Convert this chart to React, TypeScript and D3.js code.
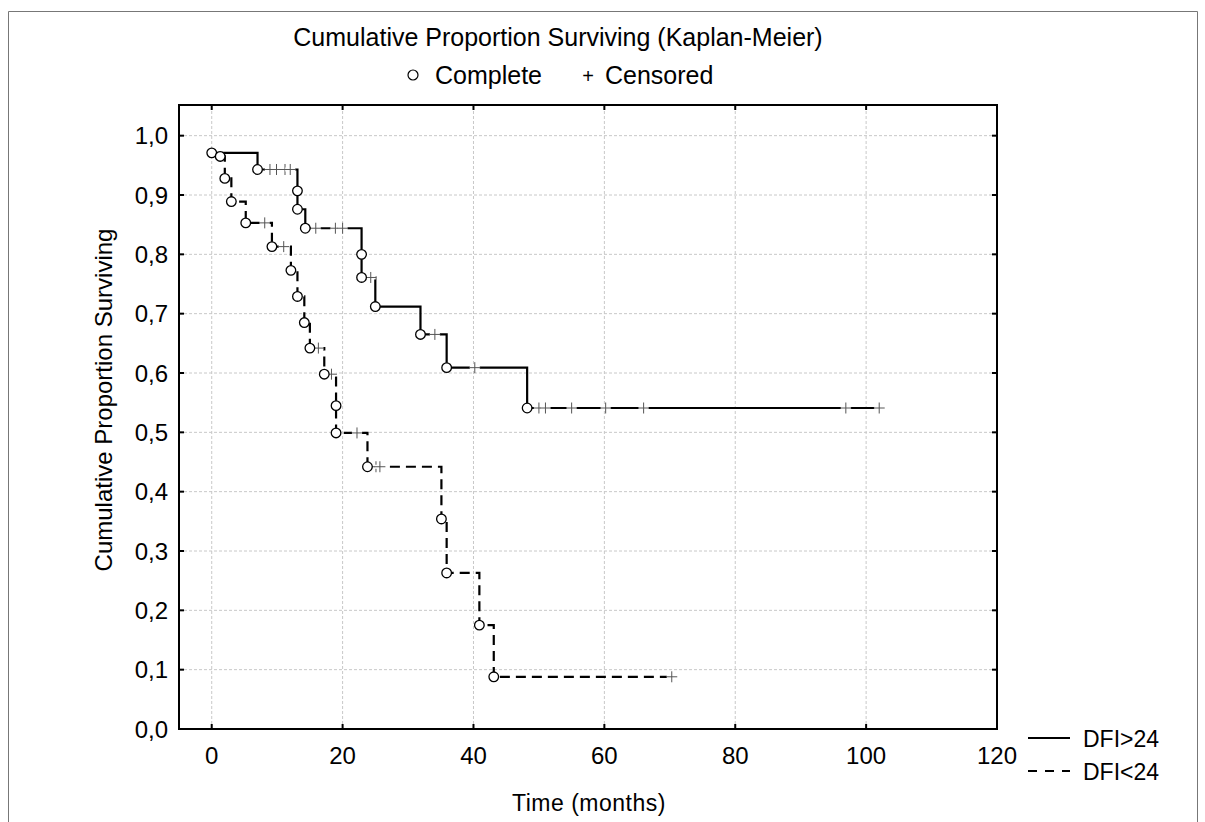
import React from "react";
import * as d3 from "d3";

const solidEventT = [0, 7, 13.1, 13.1, 14.3, 22.9, 22.9, 25.0, 31.9, 35.9, 48.2];
const solidEventS = [0.971, 0.943, 0.907, 0.876, 0.844, 0.8, 0.761, 0.712, 0.665, 0.609, 0.541];
const solidCensorT = [8.9, 9.9, 11.2, 12.0, 15.9, 18.9, 20.0, 24.3, 34.1, 40.2, 50.0, 51.0, 55.0, 60.2, 66.0, 96.9, 102.0];

const dashEventT = [1.3, 2.0, 3.0, 5.2, 9.2, 12.1, 13.1, 14.15, 15.0, 17.2, 19.0, 19.0, 23.8, 35.1, 35.9, 40.9, 43.1];
const dashEventS = [0.965, 0.928, 0.889, 0.853, 0.813, 0.773, 0.729, 0.685, 0.642, 0.598, 0.545, 0.499, 0.442, 0.354, 0.263, 0.175, 0.088];
const dashCensorT = [8.1, 11.0, 16.3, 18.3, 22.2, 25.1, 25.7, 70.3];

const xTicks = [0, 20, 40, 60, 80, 100, 120];
const yTicks = [0, 0.1, 0.2, 0.3, 0.4, 0.5, 0.6, 0.7, 0.8, 0.9, 1.0];

const title = "Cumulative Proportion Surviving (Kaplan-Meier)";
const yLabel = "Cumulative Proportion Surviving";
const xLabel = "Time (months)";
const seriesNames = ["DFI>24", "DFI<24"];

const FONT = "'Liberation Sans', Arial, sans-serif";

function survAt(t: number, ts: number[], ss: number[]) {
  let s = 1;
  for (let i = 0; i < ts.length; i++) if (ts[i] <= t) s = ss[i];
  return s;
}

export default function App() {
  const L = 179, R = 997, T = 106, B = 729;
  const x = d3.scaleLinear().domain([-5, 120]).range([L, R]);
  const y = d3.scaleLinear().domain([0, 1.05]).range([B, T]);

  const buildPath = (ts: number[], ss: number[], cs: number[]) => {
    const pts: [number, number][] = [[ts[0], ss[0]]];
    for (let i = 1; i < ts.length; i++) {
      pts.push([ts[i], ss[i - 1]]);
      pts.push([ts[i], ss[i]]);
    }
    const end = Math.max(...cs);
    if (end > ts[ts.length - 1]) pts.push([end, ss[ss.length - 1]]);
    return d3.line<[number, number]>().x((d) => x(d[0])).y((d) => y(d[1]))(pts) || "";
  };

  const series = [
    { ts: solidEventT, ss: solidEventS, cs: solidCensorT, dash: "" },
    { ts: dashEventT, ss: dashEventS, cs: dashCensorT, dash: "10,6" },
  ];

  const fmt = (v: number) => d3.format(".1f")(v).replace(".", ",");

  return (
    <svg width={1205} height={822} style={{ position: "absolute", left: 0, top: 0, background: "#fff" }}>
      <rect x={0} y={0} width={1205} height={822} fill="#fff" />
      <path d="M8.5,830 V11.5 H1197.5 V830" fill="none" stroke="#777" strokeWidth={1} />
      <text x={558} y={46} textAnchor="middle" fontFamily={FONT} fontSize={25} fill="#000">{title}</text>
      <g fontFamily={FONT} fontSize={25}>
        <circle cx={413} cy={75} r={5} fill="#fff" stroke="#000" strokeWidth={1.2} />
        <text x={435} y={84} fill="#000">Complete</text>
        <text x={588} y={83} textAnchor="middle" fill="#000" fontSize={20}>+</text>
        <text x={605} y={84} fill="#000">Censored</text>
      </g>
      {/* grid */}
      <g stroke="#c8c8c8" strokeWidth={1} strokeDasharray="3,2">
        {xTicks.filter((t) => t < 120).map((t) => (
          <line key={"gx" + t} x1={x(t)} x2={x(t)} y1={T} y2={B} />
        ))}
        {yTicks.filter((t) => t > 0).map((t) => (
          <line key={"gy" + t} x1={L} x2={R} y1={y(t)} y2={y(t)} />
        ))}
      </g>
      {/* curves */}
      {series.map((s, i) => (
        <path key={"p" + i} d={buildPath(s.ts, s.ss, s.cs)} fill="none" stroke="#000" strokeWidth={2.2} strokeDasharray={s.dash || undefined} />
      ))}
      {series.map((s, i) => (
        <g key={"c" + i}>
          {s.cs.map((t, j) => {
            const cx = x(t), cy = y(survAt(t, s.ts, s.ss));
            return (
              <g key={j}>
                <rect x={cx - 5} y={cy - 2} width={10} height={4} fill="#fff" />
                <line x1={cx - 5.5} x2={cx + 5.5} y1={cy} y2={cy} stroke="#555" strokeWidth={1} />
                <line x1={cx} x2={cx} y1={cy - 5.5} y2={cy + 5.5} stroke="#555" strokeWidth={1} />
              </g>
            );
          })}
          {s.ts.map((t, j) => (
            <circle key={"e" + j} cx={x(t)} cy={y(s.ss[j])} r={4.8} fill="#fff" stroke="#000" strokeWidth={1.3} />
          ))}
        </g>
      ))}
      {/* frame and ticks */}
      <rect x={L} y={T - 1} width={R - L} height={B - T + 1} fill="none" stroke="#000" strokeWidth={2} />
      <g stroke="#000" strokeWidth={2}>
        {xTicks.filter((t) => t < 120).map((t) => (
          <g key={"tx" + t}>
            <line x1={x(t)} x2={x(t)} y1={B} y2={B - 5} />
            <line x1={x(t)} x2={x(t)} y1={T - 1} y2={T + 4} />
          </g>
        ))}
        {yTicks.filter((t) => t > 0).map((t) => (
          <g key={"ty" + t}>
            <line x1={L} x2={L + 5} y1={y(t)} y2={y(t)} />
            <line x1={R} x2={R - 5} y1={y(t)} y2={y(t)} />
          </g>
        ))}
      </g>
      <g fontFamily={FONT} fontSize={24} fill="#000">
        {xTicks.map((t) => (
          <text key={"lx" + t} x={x(t)} y={B + 35} textAnchor="middle">{t}</text>
        ))}
        {yTicks.map((t) => (
          <text key={"ly" + t} x={L - 11} y={y(t) + 8.5} textAnchor="end">{fmt(t)}</text>
        ))}
      </g>
      <text x={589} y={811} textAnchor="middle" fontFamily={FONT} fontSize={23} letterSpacing={0.5} fill="#000">{xLabel}</text>
      <text transform={`translate(112,400) rotate(-90)`} textAnchor="middle" fontFamily={FONT} fontSize={24} fill="#000">{yLabel}</text>
      {/* series legend */}
      <g fontFamily={FONT} fontSize={23} fill="#000">
        <line x1={1028} x2={1070} y1={738} y2={738} stroke="#000" strokeWidth={2} />
        <text x={1083} y={747}>{seriesNames[0]}</text>
        <line x1={1028} x2={1070} y1={771} y2={771} stroke="#000" strokeWidth={2} strokeDasharray="9,8" />
        <text x={1083} y={780}>{seriesNames[1]}</text>
      </g>
    </svg>
  );
}
